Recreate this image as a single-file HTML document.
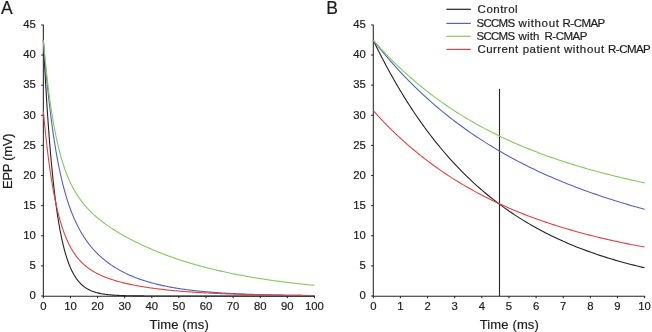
<!DOCTYPE html>
<html><head><meta charset="utf-8"><style>
html,body{margin:0;padding:0;background:#fff;}
body{width:652px;height:332px;overflow:hidden;}
svg{display:block;will-change:transform;}
text{font-family:"Liberation Sans", sans-serif;fill:#1c1c1c;stroke:#1c1c1c;stroke-width:0.2px;}
</style></head><body>
<svg width="652" height="332" viewBox="0 0 652 332">
<path d="M41.15,24.92H43.35V296.2H314.95" fill="none" stroke="#262626" stroke-width="1.05"/>
<line x1="41.15" y1="296.00" x2="43.35" y2="296.00" stroke="#262626" stroke-width="1.05"/>
<line x1="41.15" y1="265.88" x2="43.35" y2="265.88" stroke="#262626" stroke-width="1.05"/>
<line x1="41.15" y1="235.76" x2="43.35" y2="235.76" stroke="#262626" stroke-width="1.05"/>
<line x1="41.15" y1="205.64" x2="43.35" y2="205.64" stroke="#262626" stroke-width="1.05"/>
<line x1="41.15" y1="175.52" x2="43.35" y2="175.52" stroke="#262626" stroke-width="1.05"/>
<line x1="41.15" y1="145.40" x2="43.35" y2="145.40" stroke="#262626" stroke-width="1.05"/>
<line x1="41.15" y1="115.28" x2="43.35" y2="115.28" stroke="#262626" stroke-width="1.05"/>
<line x1="41.15" y1="85.16" x2="43.35" y2="85.16" stroke="#262626" stroke-width="1.05"/>
<line x1="41.15" y1="55.04" x2="43.35" y2="55.04" stroke="#262626" stroke-width="1.05"/>
<text x="35.85" y="299.30" font-size="11.3" text-anchor="end">0</text>
<text x="35.85" y="269.18" font-size="11.3" text-anchor="end">5</text>
<text x="35.85" y="239.06" font-size="11.3" text-anchor="end">10</text>
<text x="35.85" y="208.94" font-size="11.3" text-anchor="end">15</text>
<text x="35.85" y="178.82" font-size="11.3" text-anchor="end">20</text>
<text x="35.85" y="148.70" font-size="11.3" text-anchor="end">25</text>
<text x="35.85" y="118.58" font-size="11.3" text-anchor="end">30</text>
<text x="35.85" y="88.46" font-size="11.3" text-anchor="end">35</text>
<text x="35.85" y="58.34" font-size="11.3" text-anchor="end">40</text>
<text x="35.85" y="28.22" font-size="11.3" text-anchor="end">45</text>
<line x1="43.35" y1="296.0" x2="43.35" y2="298.2" stroke="#262626" stroke-width="1.05"/>
<text x="43.35" y="310.4" font-size="11.3" text-anchor="middle">0</text>
<line x1="70.46" y1="296.0" x2="70.46" y2="298.2" stroke="#262626" stroke-width="1.05"/>
<text x="70.46" y="310.4" font-size="11.3" text-anchor="middle">10</text>
<line x1="97.57" y1="296.0" x2="97.57" y2="298.2" stroke="#262626" stroke-width="1.05"/>
<text x="97.57" y="310.4" font-size="11.3" text-anchor="middle">20</text>
<line x1="124.68" y1="296.0" x2="124.68" y2="298.2" stroke="#262626" stroke-width="1.05"/>
<text x="124.68" y="310.4" font-size="11.3" text-anchor="middle">30</text>
<line x1="151.79" y1="296.0" x2="151.79" y2="298.2" stroke="#262626" stroke-width="1.05"/>
<text x="151.79" y="310.4" font-size="11.3" text-anchor="middle">40</text>
<line x1="178.90" y1="296.0" x2="178.90" y2="298.2" stroke="#262626" stroke-width="1.05"/>
<text x="178.90" y="310.4" font-size="11.3" text-anchor="middle">50</text>
<line x1="206.01" y1="296.0" x2="206.01" y2="298.2" stroke="#262626" stroke-width="1.05"/>
<text x="206.01" y="310.4" font-size="11.3" text-anchor="middle">60</text>
<line x1="233.12" y1="296.0" x2="233.12" y2="298.2" stroke="#262626" stroke-width="1.05"/>
<text x="233.12" y="310.4" font-size="11.3" text-anchor="middle">70</text>
<line x1="260.23" y1="296.0" x2="260.23" y2="298.2" stroke="#262626" stroke-width="1.05"/>
<text x="260.23" y="310.4" font-size="11.3" text-anchor="middle">80</text>
<line x1="287.34" y1="296.0" x2="287.34" y2="298.2" stroke="#262626" stroke-width="1.05"/>
<text x="287.34" y="310.4" font-size="11.3" text-anchor="middle">90</text>
<line x1="314.45" y1="296.0" x2="314.45" y2="298.2" stroke="#262626" stroke-width="1.05"/>
<text x="314.45" y="310.4" font-size="11.3" text-anchor="middle">100</text>
<text x="179.20" y="328.6" font-size="13" text-anchor="middle" textLength="59.2" lengthAdjust="spacing">Time (ms)</text>
<text x="1.0" y="14" font-size="17.5">A</text>
<path d="M371.1,24.92H373.3V296.2H645.1" fill="none" stroke="#262626" stroke-width="1.05"/>
<line x1="371.1" y1="296.00" x2="373.3" y2="296.00" stroke="#262626" stroke-width="1.05"/>
<line x1="371.1" y1="265.88" x2="373.3" y2="265.88" stroke="#262626" stroke-width="1.05"/>
<line x1="371.1" y1="235.76" x2="373.3" y2="235.76" stroke="#262626" stroke-width="1.05"/>
<line x1="371.1" y1="205.64" x2="373.3" y2="205.64" stroke="#262626" stroke-width="1.05"/>
<line x1="371.1" y1="175.52" x2="373.3" y2="175.52" stroke="#262626" stroke-width="1.05"/>
<line x1="371.1" y1="145.40" x2="373.3" y2="145.40" stroke="#262626" stroke-width="1.05"/>
<line x1="371.1" y1="115.28" x2="373.3" y2="115.28" stroke="#262626" stroke-width="1.05"/>
<line x1="371.1" y1="85.16" x2="373.3" y2="85.16" stroke="#262626" stroke-width="1.05"/>
<line x1="371.1" y1="55.04" x2="373.3" y2="55.04" stroke="#262626" stroke-width="1.05"/>
<text x="365.8" y="299.30" font-size="11.3" text-anchor="end">0</text>
<text x="365.8" y="269.18" font-size="11.3" text-anchor="end">5</text>
<text x="365.8" y="239.06" font-size="11.3" text-anchor="end">10</text>
<text x="365.8" y="208.94" font-size="11.3" text-anchor="end">15</text>
<text x="365.8" y="178.82" font-size="11.3" text-anchor="end">20</text>
<text x="365.8" y="148.70" font-size="11.3" text-anchor="end">25</text>
<text x="365.8" y="118.58" font-size="11.3" text-anchor="end">30</text>
<text x="365.8" y="88.46" font-size="11.3" text-anchor="end">35</text>
<text x="365.8" y="58.34" font-size="11.3" text-anchor="end">40</text>
<text x="365.8" y="28.22" font-size="11.3" text-anchor="end">45</text>
<line x1="373.30" y1="296.0" x2="373.30" y2="298.2" stroke="#262626" stroke-width="1.05"/>
<text x="373.30" y="310.4" font-size="11.3" text-anchor="middle">0</text>
<line x1="400.43" y1="296.0" x2="400.43" y2="298.2" stroke="#262626" stroke-width="1.05"/>
<text x="400.43" y="310.4" font-size="11.3" text-anchor="middle">1</text>
<line x1="427.56" y1="296.0" x2="427.56" y2="298.2" stroke="#262626" stroke-width="1.05"/>
<text x="427.56" y="310.4" font-size="11.3" text-anchor="middle">2</text>
<line x1="454.69" y1="296.0" x2="454.69" y2="298.2" stroke="#262626" stroke-width="1.05"/>
<text x="454.69" y="310.4" font-size="11.3" text-anchor="middle">3</text>
<line x1="481.82" y1="296.0" x2="481.82" y2="298.2" stroke="#262626" stroke-width="1.05"/>
<text x="481.82" y="310.4" font-size="11.3" text-anchor="middle">4</text>
<line x1="508.95" y1="296.0" x2="508.95" y2="298.2" stroke="#262626" stroke-width="1.05"/>
<text x="508.95" y="310.4" font-size="11.3" text-anchor="middle">5</text>
<line x1="536.08" y1="296.0" x2="536.08" y2="298.2" stroke="#262626" stroke-width="1.05"/>
<text x="536.08" y="310.4" font-size="11.3" text-anchor="middle">6</text>
<line x1="563.21" y1="296.0" x2="563.21" y2="298.2" stroke="#262626" stroke-width="1.05"/>
<text x="563.21" y="310.4" font-size="11.3" text-anchor="middle">7</text>
<line x1="590.34" y1="296.0" x2="590.34" y2="298.2" stroke="#262626" stroke-width="1.05"/>
<text x="590.34" y="310.4" font-size="11.3" text-anchor="middle">8</text>
<line x1="617.47" y1="296.0" x2="617.47" y2="298.2" stroke="#262626" stroke-width="1.05"/>
<text x="617.47" y="310.4" font-size="11.3" text-anchor="middle">9</text>
<line x1="644.60" y1="296.0" x2="644.60" y2="298.2" stroke="#262626" stroke-width="1.05"/>
<text x="644.60" y="310.4" font-size="11.3" text-anchor="middle">10</text>
<text x="509.25" y="328.6" font-size="13" text-anchor="middle" textLength="59.2" lengthAdjust="spacing">Time (ms)</text>
<text x="326.2" y="14" font-size="17.5">B</text>
<text transform="translate(12,161.2) rotate(-90)" font-size="13" text-anchor="middle" textLength="55.5" lengthAdjust="spacing">EPP (mV)</text>
<line x1="499.5" y1="88.8" x2="499.5" y2="296.0" stroke="#262626" stroke-width="1.1"/>
<path d="M43.35,40.28 L43.62,45.85 L43.89,51.30 L44.16,56.63 L44.43,61.85 L44.71,66.95 L44.98,71.94 L45.25,76.82 L45.52,81.59 L45.79,86.27 L46.06,90.84 L46.33,95.30 L46.60,99.68 L46.87,103.95 L47.15,108.14 L47.42,112.23 L47.69,116.23 L47.96,120.15 L48.23,123.98 L48.50,127.73 L48.77,131.39 L49.04,134.98 L49.31,138.49 L49.59,141.92 L49.86,145.28 L50.13,148.56 L50.40,151.77 L50.67,154.91 L50.94,157.99 L51.21,160.99 L51.48,163.94 L51.75,166.81 L52.03,169.63 L52.30,172.38 L52.57,175.07 L52.84,177.71 L53.11,180.29 L53.38,182.81 L53.65,185.27 L53.92,187.68 L54.19,190.04 L54.47,192.35 L54.74,194.61 L55.01,196.82 L55.28,198.98 L55.55,201.09 L55.82,203.16 L56.09,205.18 L56.36,207.16 L56.63,209.10 L56.91,210.99 L57.18,212.84 L57.45,214.65 L57.72,216.43 L57.99,218.16 L58.26,219.86 L58.53,221.51 L58.80,223.14 L59.07,224.73 L59.34,226.28 L59.62,227.80 L59.89,229.28 L60.16,230.74 L60.43,232.16 L60.70,233.55 L60.97,234.91 L61.24,236.24 L61.51,237.54 L61.78,238.82 L62.06,240.06 L62.33,241.28 L62.60,242.47 L62.87,243.64 L63.14,244.78 L63.41,245.89 L63.68,246.99 L63.95,248.05 L64.22,249.10 L64.50,250.12 L64.77,251.12 L65.04,252.10 L65.31,253.05 L65.58,253.99 L65.85,254.91 L66.12,255.80 L66.39,256.68 L66.66,257.53 L66.94,258.37 L67.21,259.19 L67.48,259.99 L67.75,260.78 L68.02,261.54 L68.29,262.29 L68.56,263.03 L68.83,263.75 L69.10,264.45 L69.38,265.14 L69.65,265.81 L69.92,266.47 L70.19,267.11 L70.46,267.74 L70.73,268.36 L71.00,268.96 L71.27,269.55 L71.54,270.12 L71.82,270.69 L72.09,271.24 L72.36,271.78 L72.63,272.31 L72.90,272.82 L73.17,273.33 L73.44,273.82 L73.71,274.30 L73.98,274.78 L74.26,275.24 L74.53,275.69 L74.80,276.13 L75.07,276.57 L75.34,276.99 L75.61,277.40 L75.88,277.81 L76.15,278.21 L76.42,278.59 L76.70,278.97 L76.97,279.34 L77.24,279.71 L77.51,280.06 L77.78,280.41 L78.05,280.75 L78.32,281.08 L78.59,281.41 L78.86,281.72 L79.14,282.03 L79.41,282.34 L79.68,282.64 L79.95,282.93 L80.22,283.21 L80.49,283.49 L80.76,283.76 L81.03,284.03 L81.30,284.29 L81.58,284.55 L81.85,284.80 L82.12,285.04 L82.39,285.28 L82.66,285.51 L82.93,285.74 L83.20,285.96 L83.47,286.18 L83.74,286.40 L84.02,286.61 L84.29,286.81 L84.56,287.01 L84.83,287.21 L85.10,287.40 L85.37,287.59 L85.64,287.77 L85.91,287.95 L86.18,288.12 L86.45,288.29 L86.73,288.46 L87.00,288.63 L87.27,288.79 L87.54,288.94 L87.81,289.10 L88.08,289.25 L88.35,289.40 L88.62,289.54 L88.89,289.68 L89.17,289.82 L89.44,289.95 L89.71,290.08 L89.98,290.21 L90.25,290.34 L90.52,290.46 L90.79,290.58 L91.06,290.70 L91.33,290.82 L91.61,290.93 L91.88,291.04 L92.15,291.15 L92.42,291.25 L92.69,291.36 L92.96,291.46 L93.23,291.56 L93.50,291.65 L93.77,291.75 L94.05,291.84 L94.32,291.93 L94.59,292.02 L94.86,292.11 L95.13,292.19 L95.40,292.28 L95.67,292.36 L95.94,292.44 L96.21,292.51 L96.49,292.59 L96.76,292.66 L97.03,292.74 L97.30,292.81 L97.57,292.88 L98.66,293.14 L99.75,293.38 L100.84,293.61 L101.93,293.81 L103.02,293.99 L104.11,294.16 L105.20,294.32 L106.29,294.46 L107.38,294.59 L108.47,294.71 L109.56,294.82 L110.65,294.92 L111.74,295.01 L112.83,295.10 L113.92,295.17 L115.01,295.24 L116.10,295.31 L117.19,295.37 L118.28,295.42 L119.37,295.47 L120.46,295.51 L121.55,295.55 L122.64,295.59 L123.73,295.63 L124.82,295.66 L125.91,295.69 L127.00,295.71 L128.09,295.74 L129.18,295.76 L130.27,295.78 L131.36,295.80 L132.45,295.82 L133.54,295.83 L134.62,295.85 L135.71,295.86 L136.80,295.87 L137.89,295.88 L138.98,295.89 L140.07,295.90 L141.16,295.91 L142.25,295.92 L143.34,295.92 L144.43,295.93 L145.52,295.94 L146.61,295.94 L147.70,295.95 L148.79,295.95 L149.88,295.96 L150.97,295.96 L152.06,295.96 L153.15,295.97 L154.24,295.97 L155.33,295.97 L156.42,295.97 L157.51,295.98 L158.60,295.98 L159.69,295.98 L160.78,295.98 L161.87,295.98 L162.96,295.98 L164.05,295.99 L165.14,295.99 L166.23,295.99 L167.32,295.99 L168.41,295.99 L169.50,295.99 L170.59,295.99 L171.68,295.99 L172.77,295.99 L173.86,295.99 L174.95,295.99 L176.04,295.99 L177.13,296.00 L178.22,296.00 L179.31,296.00 L180.40,296.00 L181.49,296.00 L182.58,296.00 L183.67,296.00 L184.76,296.00 L185.85,296.00 L186.94,296.00 L188.03,296.00 L189.12,296.00 L190.21,296.00 L191.30,296.00 L192.39,296.00 L193.48,296.00 L194.57,296.00 L195.66,296.00 L196.75,296.00 L197.84,296.00 L198.93,296.00 L200.02,296.00 L201.11,296.00 L202.20,296.00 L203.29,296.00 L204.38,296.00 L205.47,296.00 L206.55,296.00 L207.64,296.00 L208.73,296.00 L209.82,296.00 L210.91,296.00 L212.00,296.00 L213.09,296.00 L214.18,296.00 L215.27,296.00 L216.36,296.00 L217.45,296.00 L218.54,296.00 L219.63,296.00 L220.72,296.00 L221.81,296.00 L222.90,296.00 L223.99,296.00 L225.08,296.00 L226.17,296.00 L227.26,296.00 L228.35,296.00 L229.44,296.00 L230.53,296.00 L231.62,296.00 L232.71,296.00 L233.80,296.00 L234.89,296.00 L235.98,296.00 L237.07,296.00 L238.16,296.00 L239.25,296.00 L240.34,296.00 L241.43,296.00 L242.52,296.00 L243.61,296.00 L244.70,296.00 L245.79,296.00 L246.88,296.00 L247.97,296.00 L249.06,296.00 L250.15,296.00 L251.24,296.00 L252.33,296.00 L253.42,296.00 L254.51,296.00 L255.60,296.00 L256.69,296.00 L257.78,296.00 L258.87,296.00 L259.96,296.00 L261.05,296.00 L262.14,296.00 L263.23,296.00 L264.32,296.00 L265.41,296.00 L266.50,296.00 L267.59,296.00 L268.68,296.00 L269.77,296.00 L270.86,296.00 L271.95,296.00 L273.04,296.00 L274.13,296.00 L275.22,296.00 L276.31,296.00 L277.40,296.00 L278.48,296.00 L279.57,296.00 L280.66,296.00 L281.75,296.00 L282.84,296.00 L283.93,296.00 L285.02,296.00 L286.11,296.00 L287.20,296.00 L288.29,296.00 L289.38,296.00 L290.47,296.00 L291.56,296.00 L292.65,296.00 L293.74,296.00 L294.83,296.00 L295.92,296.00 L297.01,296.00 L298.10,296.00 L299.19,296.00 L300.28,296.00 L301.37,296.00 L302.46,296.00 L303.55,296.00 L304.64,296.00 L305.73,296.00 L306.82,296.00 L307.91,296.00 L309.00,296.00 L310.09,296.00 L311.18,296.00 L312.27,296.00 L313.36,296.00 L314.45,296.00" fill="none" stroke="#222222" stroke-width="1.1"/>
<path d="M43.35,40.28 L43.62,43.72 L43.89,47.10 L44.16,50.42 L44.43,53.67 L44.71,56.88 L44.98,60.02 L45.25,63.11 L45.52,66.15 L45.79,69.13 L46.06,72.06 L46.33,74.94 L46.60,77.77 L46.87,80.55 L47.15,83.29 L47.42,85.97 L47.69,88.61 L47.96,91.21 L48.23,93.76 L48.50,96.26 L48.77,98.73 L49.04,101.15 L49.31,103.53 L49.59,105.87 L49.86,108.17 L50.13,110.43 L50.40,112.66 L50.67,114.85 L50.94,117.00 L51.21,119.11 L51.48,121.19 L51.75,123.24 L52.03,125.25 L52.30,127.23 L52.57,129.18 L52.84,131.10 L53.11,132.98 L53.38,134.83 L53.65,136.66 L53.92,138.45 L54.19,140.22 L54.47,141.95 L54.74,143.66 L55.01,145.35 L55.28,147.00 L55.55,148.63 L55.82,150.24 L56.09,151.81 L56.36,153.37 L56.63,154.90 L56.91,156.40 L57.18,157.89 L57.45,159.35 L57.72,160.78 L57.99,162.20 L58.26,163.59 L58.53,164.96 L58.80,166.32 L59.07,167.65 L59.34,168.96 L59.62,170.25 L59.89,171.52 L60.16,172.77 L60.43,174.01 L60.70,175.22 L60.97,176.42 L61.24,177.60 L61.51,178.77 L61.78,179.91 L62.06,181.04 L62.33,182.16 L62.60,183.26 L62.87,184.34 L63.14,185.40 L63.41,186.46 L63.68,187.49 L63.95,188.51 L64.22,189.52 L64.50,190.51 L64.77,191.49 L65.04,192.46 L65.31,193.41 L65.58,194.35 L65.85,195.28 L66.12,196.19 L66.39,197.10 L66.66,197.98 L66.94,198.86 L67.21,199.73 L67.48,200.58 L67.75,201.43 L68.02,202.26 L68.29,203.08 L68.56,203.89 L68.83,204.69 L69.10,205.48 L69.38,206.26 L69.65,207.02 L69.92,207.78 L70.19,208.53 L70.46,209.27 L70.73,210.00 L71.00,210.73 L71.27,211.44 L71.54,212.14 L71.82,212.84 L72.09,213.52 L72.36,214.20 L72.63,214.87 L72.90,215.53 L73.17,216.18 L73.44,216.83 L73.71,217.47 L73.98,218.10 L74.26,218.72 L74.53,219.34 L74.80,219.94 L75.07,220.54 L75.34,221.14 L75.61,221.73 L75.88,222.31 L76.15,222.88 L76.42,223.45 L76.70,224.01 L76.97,224.56 L77.24,225.11 L77.51,225.65 L77.78,226.19 L78.05,226.72 L78.32,227.24 L78.59,227.76 L78.86,228.27 L79.14,228.78 L79.41,229.28 L79.68,229.78 L79.95,230.27 L80.22,230.75 L80.49,231.23 L80.76,231.71 L81.03,232.18 L81.30,232.64 L81.58,233.10 L81.85,233.56 L82.12,234.01 L82.39,234.46 L82.66,234.90 L82.93,235.34 L83.20,235.77 L83.47,236.20 L83.74,236.62 L84.02,237.04 L84.29,237.46 L84.56,237.87 L84.83,238.28 L85.10,238.68 L85.37,239.08 L85.64,239.48 L85.91,239.87 L86.18,240.26 L86.45,240.64 L86.73,241.02 L87.00,241.40 L87.27,241.77 L87.54,242.14 L87.81,242.51 L88.08,242.88 L88.35,243.24 L88.62,243.59 L88.89,243.95 L89.17,244.30 L89.44,244.64 L89.71,244.99 L89.98,245.33 L90.25,245.67 L90.52,246.00 L90.79,246.33 L91.06,246.66 L91.33,246.99 L91.61,247.31 L91.88,247.63 L92.15,247.95 L92.42,248.26 L92.69,248.58 L92.96,248.88 L93.23,249.19 L93.50,249.50 L93.77,249.80 L94.05,250.10 L94.32,250.39 L94.59,250.69 L94.86,250.98 L95.13,251.27 L95.40,251.55 L95.67,251.84 L95.94,252.12 L96.21,252.40 L96.49,252.68 L96.76,252.95 L97.03,253.23 L97.30,253.50 L97.57,253.77 L98.66,254.83 L99.75,255.85 L100.84,256.85 L101.93,257.81 L103.02,258.75 L104.11,259.65 L105.20,260.54 L106.29,261.39 L107.38,262.22 L108.47,263.03 L109.56,263.82 L110.65,264.58 L111.74,265.33 L112.83,266.05 L113.92,266.76 L115.01,267.44 L116.10,268.11 L117.19,268.76 L118.28,269.40 L119.37,270.01 L120.46,270.62 L121.55,271.20 L122.64,271.77 L123.73,272.33 L124.82,272.88 L125.91,273.41 L127.00,273.93 L128.09,274.43 L129.18,274.92 L130.27,275.40 L131.36,275.87 L132.45,276.33 L133.54,276.78 L134.62,277.22 L135.71,277.64 L136.80,278.06 L137.89,278.47 L138.98,278.86 L140.07,279.25 L141.16,279.63 L142.25,280.00 L143.34,280.36 L144.43,280.71 L145.52,281.06 L146.61,281.40 L147.70,281.72 L148.79,282.05 L149.88,282.36 L150.97,282.67 L152.06,282.97 L153.15,283.26 L154.24,283.55 L155.33,283.83 L156.42,284.10 L157.51,284.37 L158.60,284.63 L159.69,284.88 L160.78,285.13 L161.87,285.38 L162.96,285.61 L164.05,285.85 L165.14,286.08 L166.23,286.30 L167.32,286.52 L168.41,286.73 L169.50,286.94 L170.59,287.14 L171.68,287.34 L172.77,287.53 L173.86,287.72 L174.95,287.91 L176.04,288.09 L177.13,288.26 L178.22,288.44 L179.31,288.61 L180.40,288.77 L181.49,288.93 L182.58,289.09 L183.67,289.25 L184.76,289.40 L185.85,289.55 L186.94,289.69 L188.03,289.83 L189.12,289.97 L190.21,290.10 L191.30,290.24 L192.39,290.37 L193.48,290.49 L194.57,290.61 L195.66,290.73 L196.75,290.85 L197.84,290.97 L198.93,291.08 L200.02,291.19 L201.11,291.30 L202.20,291.40 L203.29,291.51 L204.38,291.61 L205.47,291.70 L206.55,291.80 L207.64,291.89 L208.73,291.99 L209.82,292.08 L210.91,292.16 L212.00,292.25 L213.09,292.33 L214.18,292.42 L215.27,292.50 L216.36,292.57 L217.45,292.65 L218.54,292.73 L219.63,292.80 L220.72,292.87 L221.81,292.94 L222.90,293.01 L223.99,293.08 L225.08,293.14 L226.17,293.20 L227.26,293.27 L228.35,293.33 L229.44,293.39 L230.53,293.45 L231.62,293.50 L232.71,293.56 L233.80,293.61 L234.89,293.67 L235.98,293.72 L237.07,293.77 L238.16,293.82 L239.25,293.87 L240.34,293.92 L241.43,293.96 L242.52,294.01 L243.61,294.05 L244.70,294.10 L245.79,294.14 L246.88,294.18 L247.97,294.22 L249.06,294.26 L250.15,294.30 L251.24,294.34 L252.33,294.38 L253.42,294.41 L254.51,294.45 L255.60,294.48 L256.69,294.52 L257.78,294.55 L258.87,294.58 L259.96,294.61 L261.05,294.64 L262.14,294.67 L263.23,294.70 L264.32,294.73 L265.41,294.76 L266.50,294.79 L267.59,294.82 L268.68,294.84 L269.77,294.87 L270.86,294.89 L271.95,294.92 L273.04,294.94 L274.13,294.97 L275.22,294.99 L276.31,295.01 L277.40,295.03 L278.48,295.06 L279.57,295.08 L280.66,295.10 L281.75,295.12 L282.84,295.14 L283.93,295.16 L285.02,295.18 L286.11,295.19 L287.20,295.21 L288.29,295.23 L289.38,295.25 L290.47,295.26 L291.56,295.28 L292.65,295.30 L293.74,295.31 L294.83,295.33 L295.92,295.34 L297.01,295.36 L298.10,295.37 L299.19,295.39 L300.28,295.40 L301.37,295.41 L302.46,295.43 L303.55,295.44 L304.64,295.45 L305.73,295.46 L306.82,295.48 L307.91,295.49 L309.00,295.50 L310.09,295.51 L311.18,295.52 L312.27,295.53 L313.36,295.54 L314.45,295.55" fill="none" stroke="#5461c4" stroke-width="1.1"/>
<path d="M43.35,40.28 L43.62,43.34 L43.89,46.35 L44.16,49.30 L44.43,52.19 L44.71,55.02 L44.98,57.81 L45.25,60.53 L45.52,63.21 L45.79,65.84 L46.06,68.41 L46.33,70.94 L46.60,73.42 L46.87,75.85 L47.15,78.24 L47.42,80.58 L47.69,82.88 L47.96,85.14 L48.23,87.35 L48.50,89.53 L48.77,91.66 L49.04,93.75 L49.31,95.81 L49.59,97.82 L49.86,99.80 L50.13,101.75 L50.40,103.66 L50.67,105.53 L50.94,107.37 L51.21,109.17 L51.48,110.95 L51.75,112.69 L52.03,114.40 L52.30,116.08 L52.57,117.72 L52.84,119.34 L53.11,120.93 L53.38,122.50 L53.65,124.03 L53.92,125.54 L54.19,127.02 L54.47,128.47 L54.74,129.90 L55.01,131.31 L55.28,132.69 L55.55,134.04 L55.82,135.38 L56.09,136.69 L56.36,137.97 L56.63,139.24 L56.91,140.48 L57.18,141.70 L57.45,142.91 L57.72,144.09 L57.99,145.25 L58.26,146.39 L58.53,147.51 L58.80,148.62 L59.07,149.71 L59.34,150.77 L59.62,151.82 L59.89,152.86 L60.16,153.87 L60.43,154.87 L60.70,155.86 L60.97,156.83 L61.24,157.78 L61.51,158.72 L61.78,159.64 L62.06,160.55 L62.33,161.44 L62.60,162.32 L62.87,163.19 L63.14,164.04 L63.41,164.88 L63.68,165.71 L63.95,166.52 L64.22,167.32 L64.50,168.11 L64.77,168.89 L65.04,169.65 L65.31,170.41 L65.58,171.15 L65.85,171.88 L66.12,172.61 L66.39,173.32 L66.66,174.02 L66.94,174.71 L67.21,175.39 L67.48,176.06 L67.75,176.72 L68.02,177.37 L68.29,178.01 L68.56,178.65 L68.83,179.27 L69.10,179.89 L69.38,180.50 L69.65,181.10 L69.92,181.69 L70.19,182.27 L70.46,182.85 L70.73,183.42 L71.00,183.98 L71.27,184.53 L71.54,185.08 L71.82,185.62 L72.09,186.15 L72.36,186.67 L72.63,187.19 L72.90,187.70 L73.17,188.21 L73.44,188.71 L73.71,189.20 L73.98,189.69 L74.26,190.17 L74.53,190.65 L74.80,191.12 L75.07,191.58 L75.34,192.04 L75.61,192.49 L75.88,192.94 L76.15,193.38 L76.42,193.82 L76.70,194.25 L76.97,194.68 L77.24,195.10 L77.51,195.52 L77.78,195.94 L78.05,196.35 L78.32,196.75 L78.59,197.15 L78.86,197.55 L79.14,197.94 L79.41,198.33 L79.68,198.71 L79.95,199.09 L80.22,199.47 L80.49,199.84 L80.76,200.21 L81.03,200.57 L81.30,200.93 L81.58,201.29 L81.85,201.65 L82.12,202.00 L82.39,202.34 L82.66,202.69 L82.93,203.03 L83.20,203.37 L83.47,203.70 L83.74,204.03 L84.02,204.36 L84.29,204.69 L84.56,205.01 L84.83,205.33 L85.10,205.64 L85.37,205.96 L85.64,206.27 L85.91,206.58 L86.18,206.89 L86.45,207.19 L86.73,207.49 L87.00,207.79 L87.27,208.08 L87.54,208.38 L87.81,208.67 L88.08,208.96 L88.35,209.25 L88.62,209.53 L88.89,209.81 L89.17,210.09 L89.44,210.37 L89.71,210.65 L89.98,210.92 L90.25,211.19 L90.52,211.46 L90.79,211.73 L91.06,212.00 L91.33,212.26 L91.61,212.52 L91.88,212.78 L92.15,213.04 L92.42,213.30 L92.69,213.55 L92.96,213.81 L93.23,214.06 L93.50,214.31 L93.77,214.56 L94.05,214.81 L94.32,215.05 L94.59,215.29 L94.86,215.54 L95.13,215.78 L95.40,216.02 L95.67,216.25 L95.94,216.49 L96.21,216.72 L96.49,216.96 L96.76,217.19 L97.03,217.42 L97.30,217.65 L97.57,217.88 L98.66,218.78 L99.75,219.67 L100.84,220.53 L101.93,221.38 L103.02,222.21 L104.11,223.02 L105.20,223.82 L106.29,224.61 L107.38,225.38 L108.47,226.14 L109.56,226.88 L110.65,227.61 L111.74,228.34 L112.83,229.05 L113.92,229.75 L115.01,230.44 L116.10,231.12 L117.19,231.79 L118.28,232.45 L119.37,233.10 L120.46,233.75 L121.55,234.38 L122.64,235.01 L123.73,235.63 L124.82,236.24 L125.91,236.85 L127.00,237.44 L128.09,238.03 L129.18,238.62 L130.27,239.19 L131.36,239.76 L132.45,240.33 L133.54,240.89 L134.62,241.44 L135.71,241.98 L136.80,242.52 L137.89,243.05 L138.98,243.58 L140.07,244.10 L141.16,244.62 L142.25,245.13 L143.34,245.64 L144.43,246.14 L145.52,246.63 L146.61,247.12 L147.70,247.60 L148.79,248.08 L149.88,248.56 L150.97,249.03 L152.06,249.49 L153.15,249.95 L154.24,250.41 L155.33,250.86 L156.42,251.31 L157.51,251.75 L158.60,252.19 L159.69,252.62 L160.78,253.05 L161.87,253.47 L162.96,253.89 L164.05,254.31 L165.14,254.72 L166.23,255.13 L167.32,255.53 L168.41,255.93 L169.50,256.32 L170.59,256.72 L171.68,257.10 L172.77,257.49 L173.86,257.87 L174.95,258.24 L176.04,258.62 L177.13,258.98 L178.22,259.35 L179.31,259.71 L180.40,260.07 L181.49,260.42 L182.58,260.77 L183.67,261.12 L184.76,261.47 L185.85,261.81 L186.94,262.14 L188.03,262.48 L189.12,262.81 L190.21,263.13 L191.30,263.46 L192.39,263.78 L193.48,264.10 L194.57,264.41 L195.66,264.72 L196.75,265.03 L197.84,265.34 L198.93,265.64 L200.02,265.94 L201.11,266.23 L202.20,266.53 L203.29,266.82 L204.38,267.11 L205.47,267.39 L206.55,267.67 L207.64,267.95 L208.73,268.23 L209.82,268.50 L210.91,268.77 L212.00,269.04 L213.09,269.31 L214.18,269.57 L215.27,269.83 L216.36,270.09 L217.45,270.34 L218.54,270.60 L219.63,270.85 L220.72,271.10 L221.81,271.34 L222.90,271.58 L223.99,271.82 L225.08,272.06 L226.17,272.30 L227.26,272.53 L228.35,272.76 L229.44,272.99 L230.53,273.22 L231.62,273.44 L232.71,273.67 L233.80,273.89 L234.89,274.10 L235.98,274.32 L237.07,274.53 L238.16,274.75 L239.25,274.95 L240.34,275.16 L241.43,275.37 L242.52,275.57 L243.61,275.77 L244.70,275.97 L245.79,276.17 L246.88,276.36 L247.97,276.56 L249.06,276.75 L250.15,276.94 L251.24,277.13 L252.33,277.31 L253.42,277.50 L254.51,277.68 L255.60,277.86 L256.69,278.04 L257.78,278.22 L258.87,278.39 L259.96,278.56 L261.05,278.74 L262.14,278.91 L263.23,279.08 L264.32,279.24 L265.41,279.41 L266.50,279.57 L267.59,279.73 L268.68,279.89 L269.77,280.05 L270.86,280.21 L271.95,280.36 L273.04,280.52 L274.13,280.67 L275.22,280.82 L276.31,280.97 L277.40,281.12 L278.48,281.27 L279.57,281.41 L280.66,281.56 L281.75,281.70 L282.84,281.84 L283.93,281.98 L285.02,282.12 L286.11,282.25 L287.20,282.39 L288.29,282.52 L289.38,282.66 L290.47,282.79 L291.56,282.92 L292.65,283.05 L293.74,283.17 L294.83,283.30 L295.92,283.43 L297.01,283.55 L298.10,283.67 L299.19,283.79 L300.28,283.91 L301.37,284.03 L302.46,284.15 L303.55,284.27 L304.64,284.38 L305.73,284.50 L306.82,284.61 L307.91,284.72 L309.00,284.83 L310.09,284.94 L311.18,285.05 L312.27,285.16 L313.36,285.27 L314.45,285.37" fill="none" stroke="#82c95c" stroke-width="1.1"/>
<path d="M43.35,110.69 L43.62,113.69 L43.89,116.63 L44.16,119.52 L44.43,122.35 L44.71,125.13 L44.98,127.85 L45.25,130.52 L45.52,133.13 L45.79,135.70 L46.06,138.22 L46.33,140.69 L46.60,143.11 L46.87,145.49 L47.15,147.82 L47.42,150.11 L47.69,152.35 L47.96,154.55 L48.23,156.71 L48.50,158.83 L48.77,160.90 L49.04,162.94 L49.31,164.94 L49.59,166.90 L49.86,168.83 L50.13,170.72 L50.40,172.57 L50.67,174.39 L50.94,176.17 L51.21,177.92 L51.48,179.64 L51.75,181.32 L52.03,182.98 L52.30,184.60 L52.57,186.19 L52.84,187.76 L53.11,189.29 L53.38,190.80 L53.65,192.28 L53.92,193.73 L54.19,195.15 L54.47,196.55 L54.74,197.92 L55.01,199.27 L55.28,200.59 L55.55,201.89 L55.82,203.16 L56.09,204.42 L56.36,205.64 L56.63,206.85 L56.91,208.04 L57.18,209.20 L57.45,210.34 L57.72,211.46 L57.99,212.57 L58.26,213.65 L58.53,214.71 L58.80,215.75 L59.07,216.78 L59.34,217.79 L59.62,218.77 L59.89,219.75 L60.16,220.70 L60.43,221.64 L60.70,222.56 L60.97,223.46 L61.24,224.35 L61.51,225.23 L61.78,226.09 L62.06,226.93 L62.33,227.76 L62.60,228.57 L62.87,229.37 L63.14,230.16 L63.41,230.93 L63.68,231.69 L63.95,232.44 L64.22,233.18 L64.50,233.90 L64.77,234.61 L65.04,235.30 L65.31,235.99 L65.58,236.67 L65.85,237.33 L66.12,237.98 L66.39,238.62 L66.66,239.25 L66.94,239.87 L67.21,240.48 L67.48,241.08 L67.75,241.67 L68.02,242.25 L68.29,242.83 L68.56,243.39 L68.83,243.94 L69.10,244.48 L69.38,245.02 L69.65,245.55 L69.92,246.06 L70.19,246.57 L70.46,247.08 L70.73,247.57 L71.00,248.06 L71.27,248.53 L71.54,249.01 L71.82,249.47 L72.09,249.93 L72.36,250.38 L72.63,250.82 L72.90,251.25 L73.17,251.68 L73.44,252.10 L73.71,252.52 L73.98,252.93 L74.26,253.33 L74.53,253.73 L74.80,254.12 L75.07,254.51 L75.34,254.89 L75.61,255.26 L75.88,255.63 L76.15,256.00 L76.42,256.35 L76.70,256.71 L76.97,257.06 L77.24,257.40 L77.51,257.74 L77.78,258.07 L78.05,258.40 L78.32,258.72 L78.59,259.04 L78.86,259.36 L79.14,259.67 L79.41,259.97 L79.68,260.27 L79.95,260.57 L80.22,260.87 L80.49,261.16 L80.76,261.44 L81.03,261.72 L81.30,262.00 L81.58,262.28 L81.85,262.55 L82.12,262.81 L82.39,263.08 L82.66,263.34 L82.93,263.59 L83.20,263.85 L83.47,264.10 L83.74,264.34 L84.02,264.59 L84.29,264.83 L84.56,265.06 L84.83,265.30 L85.10,265.53 L85.37,265.76 L85.64,265.99 L85.91,266.21 L86.18,266.43 L86.45,266.65 L86.73,266.86 L87.00,267.07 L87.27,267.28 L87.54,267.49 L87.81,267.70 L88.08,267.90 L88.35,268.10 L88.62,268.30 L88.89,268.49 L89.17,268.68 L89.44,268.87 L89.71,269.06 L89.98,269.25 L90.25,269.43 L90.52,269.62 L90.79,269.80 L91.06,269.97 L91.33,270.15 L91.61,270.33 L91.88,270.50 L92.15,270.67 L92.42,270.84 L92.69,271.00 L92.96,271.17 L93.23,271.33 L93.50,271.49 L93.77,271.65 L94.05,271.81 L94.32,271.97 L94.59,272.12 L94.86,272.28 L95.13,272.43 L95.40,272.58 L95.67,272.73 L95.94,272.87 L96.21,273.02 L96.49,273.16 L96.76,273.31 L97.03,273.45 L97.30,273.59 L97.57,273.73 L98.66,274.27 L99.75,274.80 L100.84,275.30 L101.93,275.79 L103.02,276.26 L104.11,276.71 L105.20,277.15 L106.29,277.57 L107.38,277.98 L108.47,278.38 L109.56,278.76 L110.65,279.14 L111.74,279.50 L112.83,279.85 L113.92,280.19 L115.01,280.53 L116.10,280.85 L117.19,281.16 L118.28,281.47 L119.37,281.77 L120.46,282.06 L121.55,282.34 L122.64,282.62 L123.73,282.89 L124.82,283.15 L125.91,283.41 L127.00,283.66 L128.09,283.90 L129.18,284.14 L130.27,284.37 L131.36,284.60 L132.45,284.82 L133.54,285.04 L134.62,285.26 L135.71,285.46 L136.80,285.67 L137.89,285.87 L138.98,286.06 L140.07,286.26 L141.16,286.44 L142.25,286.63 L143.34,286.81 L144.43,286.98 L145.52,287.16 L146.61,287.32 L147.70,287.49 L148.79,287.65 L149.88,287.81 L150.97,287.97 L152.06,288.12 L153.15,288.27 L154.24,288.42 L155.33,288.56 L156.42,288.70 L157.51,288.84 L158.60,288.97 L159.69,289.11 L160.78,289.24 L161.87,289.36 L162.96,289.49 L164.05,289.61 L165.14,289.73 L166.23,289.85 L167.32,289.97 L168.41,290.08 L169.50,290.19 L170.59,290.30 L171.68,290.41 L172.77,290.51 L173.86,290.62 L174.95,290.72 L176.04,290.82 L177.13,290.92 L178.22,291.01 L179.31,291.11 L180.40,291.20 L181.49,291.29 L182.58,291.38 L183.67,291.46 L184.76,291.55 L185.85,291.63 L186.94,291.71 L188.03,291.79 L189.12,291.87 L190.21,291.95 L191.30,292.03 L192.39,292.10 L193.48,292.17 L194.57,292.25 L195.66,292.32 L196.75,292.39 L197.84,292.45 L198.93,292.52 L200.02,292.59 L201.11,292.65 L202.20,292.71 L203.29,292.77 L204.38,292.83 L205.47,292.89 L206.55,292.95 L207.64,293.01 L208.73,293.07 L209.82,293.12 L210.91,293.17 L212.00,293.23 L213.09,293.28 L214.18,293.33 L215.27,293.38 L216.36,293.43 L217.45,293.48 L218.54,293.53 L219.63,293.57 L220.72,293.62 L221.81,293.66 L222.90,293.71 L223.99,293.75 L225.08,293.79 L226.17,293.83 L227.26,293.87 L228.35,293.91 L229.44,293.95 L230.53,293.99 L231.62,294.03 L232.71,294.06 L233.80,294.10 L234.89,294.14 L235.98,294.17 L237.07,294.21 L238.16,294.24 L239.25,294.27 L240.34,294.31 L241.43,294.34 L242.52,294.37 L243.61,294.40 L244.70,294.43 L245.79,294.46 L246.88,294.49 L247.97,294.52 L249.06,294.54 L250.15,294.57 L251.24,294.60 L252.33,294.62 L253.42,294.65 L254.51,294.67 L255.60,294.70 L256.69,294.72 L257.78,294.75 L258.87,294.77 L259.96,294.79 L261.05,294.82 L262.14,294.84 L263.23,294.86 L264.32,294.88 L265.41,294.90 L266.50,294.92 L267.59,294.94 L268.68,294.96 L269.77,294.98 L270.86,295.00 L271.95,295.02 L273.04,295.04 L274.13,295.06 L275.22,295.07 L276.31,295.09 L277.40,295.11 L278.48,295.13 L279.57,295.14 L280.66,295.16 L281.75,295.17 L282.84,295.19 L283.93,295.20 L285.02,295.22 L286.11,295.23 L287.20,295.25 L288.29,295.26 L289.38,295.28 L290.47,295.29 L291.56,295.30 L292.65,295.32 L293.74,295.33 L294.83,295.34 L295.92,295.35 L297.01,295.37 L298.10,295.38 L299.19,295.39 L300.28,295.40 L301.37,295.41 L302.46,295.42 L303.55,295.43 L304.64,295.45 L305.73,295.46 L306.82,295.47 L307.91,295.48 L309.00,295.49 L310.09,295.50 L311.18,295.50 L312.27,295.51 L313.36,295.52 L314.45,295.53" fill="none" stroke="#e04242" stroke-width="1.1"/>
<path d="M373.30,40.28 L373.98,41.69 L374.66,43.08 L375.33,44.47 L376.01,45.85 L376.69,47.23 L377.37,48.59 L378.05,49.95 L378.73,51.30 L379.40,52.65 L380.08,53.98 L380.76,55.31 L381.44,56.63 L382.12,57.95 L382.80,59.25 L383.47,60.55 L384.15,61.85 L384.83,63.13 L385.51,64.41 L386.19,65.68 L386.87,66.95 L387.54,68.21 L388.22,69.46 L388.90,70.70 L389.58,71.94 L390.26,73.17 L390.93,74.39 L391.61,75.61 L392.29,76.82 L392.97,78.02 L393.65,79.22 L394.33,80.41 L395.00,81.59 L395.68,82.77 L396.36,83.94 L397.04,85.11 L397.72,86.27 L398.40,87.42 L399.07,88.56 L399.75,89.70 L400.43,90.84 L401.11,91.96 L401.79,93.08 L402.46,94.20 L403.14,95.30 L403.82,96.41 L404.50,97.50 L405.18,98.59 L405.86,99.68 L406.53,100.76 L407.21,101.83 L407.89,102.89 L408.57,103.95 L409.25,105.01 L409.93,106.06 L410.60,107.10 L411.28,108.14 L411.96,109.17 L412.64,110.20 L413.32,111.22 L414.00,112.23 L414.67,113.24 L415.35,114.24 L416.03,115.24 L416.71,116.23 L417.39,117.22 L418.06,118.20 L418.74,119.18 L419.42,120.15 L420.10,121.12 L420.78,122.08 L421.46,123.03 L422.13,123.98 L422.81,124.93 L423.49,125.87 L424.17,126.80 L424.85,127.73 L425.53,128.65 L426.20,129.57 L426.88,130.49 L427.56,131.39 L430.31,135.03 L433.05,138.58 L435.80,142.05 L438.55,145.44 L441.30,148.77 L444.04,152.01 L446.79,155.19 L449.54,158.30 L452.29,161.33 L455.03,164.30 L457.78,167.21 L460.53,170.05 L463.28,172.83 L466.02,175.54 L468.77,178.20 L471.52,180.80 L474.26,183.34 L477.01,185.83 L479.76,188.26 L482.51,190.63 L485.25,192.96 L488.00,195.23 L490.75,197.45 L493.50,199.63 L496.24,201.75 L498.99,203.83 L501.74,205.87 L504.49,207.85 L507.23,209.80 L509.98,211.70 L512.73,213.56 L515.47,215.38 L518.22,217.16 L520.97,218.89 L523.72,220.60 L526.46,222.26 L529.21,223.89 L531.96,225.48 L534.71,227.03 L537.45,228.55 L540.20,230.04 L542.95,231.50 L545.70,232.92 L548.44,234.31 L551.19,235.67 L553.94,237.00 L556.69,238.30 L559.43,239.58 L562.18,240.82 L564.93,242.04 L567.67,243.23 L570.42,244.39 L573.17,245.53 L575.92,246.64 L578.66,247.73 L581.41,248.80 L584.16,249.84 L586.91,250.86 L589.65,251.85 L592.40,252.83 L595.15,253.78 L597.90,254.71 L600.64,255.62 L603.39,256.51 L606.14,257.38 L608.88,258.23 L611.63,259.07 L614.38,259.88 L617.13,260.68 L619.87,261.46 L622.62,262.22 L625.37,262.96 L628.12,263.69 L630.86,264.41 L633.61,265.10 L636.36,265.78 L639.11,266.45 L641.85,267.10 L644.60,267.74" fill="none" stroke="#222222" stroke-width="1.1"/>
<path d="M373.30,40.28 L373.98,41.15 L374.66,42.01 L375.33,42.87 L376.01,43.72 L376.69,44.57 L377.37,45.42 L378.05,46.26 L378.73,47.10 L379.40,47.93 L380.08,48.76 L380.76,49.59 L381.44,50.42 L382.12,51.24 L382.80,52.05 L383.47,52.87 L384.15,53.67 L384.83,54.48 L385.51,55.28 L386.19,56.08 L386.87,56.88 L387.54,57.67 L388.22,58.46 L388.90,59.24 L389.58,60.02 L390.26,60.80 L390.93,61.57 L391.61,62.34 L392.29,63.11 L392.97,63.88 L393.65,64.64 L394.33,65.39 L395.00,66.15 L395.68,66.90 L396.36,67.65 L397.04,68.39 L397.72,69.13 L398.40,69.87 L399.07,70.60 L399.75,71.33 L400.43,72.06 L401.11,72.79 L401.79,73.51 L402.46,74.23 L403.14,74.94 L403.82,75.65 L404.50,76.36 L405.18,77.07 L405.86,77.77 L406.53,78.47 L407.21,79.17 L407.89,79.86 L408.57,80.55 L409.25,81.24 L409.93,81.92 L410.60,82.61 L411.28,83.29 L411.96,83.96 L412.64,84.63 L413.32,85.30 L414.00,85.97 L414.67,86.64 L415.35,87.30 L416.03,87.96 L416.71,88.61 L417.39,89.26 L418.06,89.91 L418.74,90.56 L419.42,91.21 L420.10,91.85 L420.78,92.49 L421.46,93.12 L422.13,93.76 L422.81,94.39 L423.49,95.01 L424.17,95.64 L424.85,96.26 L425.53,96.88 L426.20,97.50 L426.88,98.11 L427.56,98.73 L430.31,101.18 L433.05,103.59 L435.80,105.96 L438.55,108.29 L441.30,110.58 L444.04,112.83 L446.79,115.04 L449.54,117.21 L452.29,119.35 L455.03,121.46 L457.78,123.52 L460.53,125.56 L463.28,127.56 L466.02,129.52 L468.77,131.46 L471.52,133.36 L474.26,135.23 L477.01,137.07 L479.76,138.88 L482.51,140.66 L485.25,142.41 L488.00,144.14 L490.75,145.83 L493.50,147.50 L496.24,149.14 L498.99,150.76 L501.74,152.35 L504.49,153.91 L507.23,155.45 L509.98,156.97 L512.73,158.46 L515.47,159.93 L518.22,161.38 L520.97,162.80 L523.72,164.20 L526.46,165.58 L529.21,166.94 L531.96,168.28 L534.71,169.60 L537.45,170.90 L540.20,172.17 L542.95,173.43 L545.70,174.67 L548.44,175.89 L551.19,177.10 L553.94,178.28 L556.69,179.45 L559.43,180.60 L562.18,181.74 L564.93,182.85 L567.67,183.96 L570.42,185.04 L573.17,186.11 L575.92,187.17 L578.66,188.20 L581.41,189.23 L584.16,190.24 L586.91,191.24 L589.65,192.22 L592.40,193.19 L595.15,194.14 L597.90,195.08 L600.64,196.01 L603.39,196.92 L606.14,197.83 L608.88,198.72 L611.63,199.60 L614.38,200.46 L617.13,201.32 L619.87,202.16 L622.62,203.00 L625.37,203.82 L628.12,204.63 L630.86,205.43 L633.61,206.22 L636.36,207.00 L639.11,207.76 L641.85,208.52 L644.60,209.27" fill="none" stroke="#5461c4" stroke-width="1.1"/>
<path d="M373.30,40.28 L373.98,41.05 L374.66,41.82 L375.33,42.58 L376.01,43.34 L376.69,44.10 L377.37,44.85 L378.05,45.60 L378.73,46.35 L379.40,47.09 L380.08,47.83 L380.76,48.57 L381.44,49.30 L382.12,50.02 L382.80,50.75 L383.47,51.47 L384.15,52.19 L384.83,52.90 L385.51,53.61 L386.19,54.32 L386.87,55.02 L387.54,55.72 L388.22,56.42 L388.90,57.11 L389.58,57.81 L390.26,58.49 L390.93,59.18 L391.61,59.86 L392.29,60.53 L392.97,61.21 L393.65,61.88 L394.33,62.55 L395.00,63.21 L395.68,63.87 L396.36,64.53 L397.04,65.19 L397.72,65.84 L398.40,66.49 L399.07,67.13 L399.75,67.77 L400.43,68.41 L401.11,69.05 L401.79,69.68 L402.46,70.31 L403.14,70.94 L403.82,71.57 L404.50,72.19 L405.18,72.81 L405.86,73.42 L406.53,74.03 L407.21,74.64 L407.89,75.25 L408.57,75.85 L409.25,76.46 L409.93,77.05 L410.60,77.65 L411.28,78.24 L411.96,78.83 L412.64,79.42 L413.32,80.00 L414.00,80.58 L414.67,81.16 L415.35,81.74 L416.03,82.31 L416.71,82.88 L417.39,83.45 L418.06,84.02 L418.74,84.58 L419.42,85.14 L420.10,85.70 L420.78,86.25 L421.46,86.80 L422.13,87.35 L422.81,87.90 L423.49,88.45 L424.17,88.99 L424.85,89.53 L425.53,90.06 L426.20,90.60 L426.88,91.13 L427.56,91.66 L430.31,93.78 L433.05,95.86 L435.80,97.90 L438.55,99.90 L441.30,101.87 L444.04,103.80 L446.79,105.69 L449.54,107.55 L452.29,109.38 L455.03,111.17 L457.78,112.93 L460.53,114.65 L463.28,116.35 L466.02,118.01 L468.77,119.65 L471.52,121.25 L474.26,122.83 L477.01,124.38 L479.76,125.90 L482.51,127.39 L485.25,128.86 L488.00,130.30 L490.75,131.71 L493.50,133.10 L496.24,134.47 L498.99,135.81 L501.74,137.13 L504.49,138.42 L507.23,139.70 L509.98,140.95 L512.73,142.18 L515.47,143.39 L518.22,144.58 L520.97,145.74 L523.72,146.89 L526.46,148.02 L529.21,149.13 L531.96,150.22 L534.71,151.29 L537.45,152.35 L540.20,153.39 L542.95,154.41 L545.70,155.41 L548.44,156.40 L551.19,157.37 L553.94,158.33 L556.69,159.27 L559.43,160.19 L562.18,161.10 L564.93,162.00 L567.67,162.88 L570.42,163.75 L573.17,164.60 L575.92,165.45 L578.66,166.27 L581.41,167.09 L584.16,167.89 L586.91,168.68 L589.65,169.46 L592.40,170.23 L595.15,170.98 L597.90,171.73 L600.64,172.46 L603.39,173.18 L606.14,173.89 L608.88,174.59 L611.63,175.29 L614.38,175.97 L617.13,176.64 L619.87,177.30 L622.62,177.95 L625.37,178.59 L628.12,179.23 L630.86,179.85 L633.61,180.47 L636.36,181.08 L639.11,181.67 L641.85,182.27 L644.60,182.85" fill="none" stroke="#82c95c" stroke-width="1.1"/>
<path d="M373.30,110.69 L373.98,111.45 L374.66,112.20 L375.33,112.95 L376.01,113.69 L376.69,114.43 L377.37,115.17 L378.05,115.90 L378.73,116.63 L379.40,117.36 L380.08,118.08 L380.76,118.80 L381.44,119.52 L382.12,120.23 L382.80,120.94 L383.47,121.65 L384.15,122.35 L384.83,123.05 L385.51,123.74 L386.19,124.44 L386.87,125.13 L387.54,125.81 L388.22,126.49 L388.90,127.17 L389.58,127.85 L390.26,128.52 L390.93,129.19 L391.61,129.85 L392.29,130.52 L392.97,131.18 L393.65,131.83 L394.33,132.49 L395.00,133.13 L395.68,133.78 L396.36,134.42 L397.04,135.07 L397.72,135.70 L398.40,136.34 L399.07,136.97 L399.75,137.60 L400.43,138.22 L401.11,138.84 L401.79,139.46 L402.46,140.08 L403.14,140.69 L403.82,141.30 L404.50,141.91 L405.18,142.51 L405.86,143.11 L406.53,143.71 L407.21,144.31 L407.89,144.90 L408.57,145.49 L409.25,146.08 L409.93,146.66 L410.60,147.24 L411.28,147.82 L411.96,148.40 L412.64,148.97 L413.32,149.54 L414.00,150.11 L414.67,150.67 L415.35,151.24 L416.03,151.79 L416.71,152.35 L417.39,152.91 L418.06,153.46 L418.74,154.01 L419.42,154.55 L420.10,155.10 L420.78,155.64 L421.46,156.17 L422.13,156.71 L422.81,157.24 L423.49,157.77 L424.17,158.30 L424.85,158.83 L425.53,159.35 L426.20,159.87 L426.88,160.39 L427.56,160.90 L430.31,162.97 L433.05,164.99 L435.80,166.98 L438.55,168.92 L441.30,170.83 L444.04,172.71 L446.79,174.55 L449.54,176.35 L452.29,178.12 L455.03,179.85 L457.78,181.56 L460.53,183.23 L463.28,184.87 L466.02,186.47 L468.77,188.05 L471.52,189.60 L474.26,191.12 L477.01,192.61 L479.76,194.07 L482.51,195.51 L485.25,196.92 L488.00,198.30 L490.75,199.66 L493.50,200.99 L496.24,202.30 L498.99,203.58 L501.74,204.84 L504.49,206.07 L507.23,207.29 L509.98,208.48 L512.73,209.65 L515.47,210.80 L518.22,211.93 L520.97,213.03 L523.72,214.12 L526.46,215.19 L529.21,216.24 L531.96,217.27 L534.71,218.28 L537.45,219.27 L540.20,220.24 L542.95,221.20 L545.70,222.14 L548.44,223.07 L551.19,223.97 L553.94,224.86 L556.69,225.74 L559.43,226.60 L562.18,227.44 L564.93,228.28 L567.67,229.09 L570.42,229.89 L573.17,230.68 L575.92,231.45 L578.66,232.21 L581.41,232.96 L584.16,233.70 L586.91,234.42 L589.65,235.13 L592.40,235.83 L595.15,236.51 L597.90,237.19 L600.64,237.85 L603.39,238.50 L606.14,239.14 L608.88,239.77 L611.63,240.39 L614.38,241.00 L617.13,241.60 L619.87,242.19 L622.62,242.77 L625.37,243.34 L628.12,243.90 L630.86,244.45 L633.61,244.99 L636.36,245.53 L639.11,246.05 L641.85,246.57 L644.60,247.08" fill="none" stroke="#e04242" stroke-width="1.1"/>
<line x1="446.4" y1="9.3" x2="470.8" y2="9.3" stroke="#222222" stroke-width="1.2"/>
<line x1="446.4" y1="23.4" x2="470.8" y2="23.4" stroke="#5461c4" stroke-width="1.2"/>
<line x1="446.4" y1="36.3" x2="470.8" y2="36.3" stroke="#82c95c" stroke-width="1.2"/>
<line x1="446.4" y1="49.4" x2="470.8" y2="49.4" stroke="#e04242" stroke-width="1.2"/>
<text x="477.6" y="12.8" font-size="11.5" textLength="39.98" lengthAdjust="spacing">Control</text>
<text x="476.5" y="26.7" font-size="11.5" textLength="38.63" lengthAdjust="spacing">SCCMS</text>
<text x="518.5" y="26.7" font-size="11.5" textLength="40.44" lengthAdjust="spacing">without</text>
<text x="562.6" y="26.7" font-size="11.5" textLength="42.67" lengthAdjust="spacing">R-CMAP</text>
<text x="476.5" y="40.0" font-size="11.5" textLength="38.63" lengthAdjust="spacing">SCCMS</text>
<text x="518.5" y="40.0" font-size="11.5" textLength="21.0" lengthAdjust="spacing">with</text>
<text x="544.5" y="40.0" font-size="11.5" textLength="42.93" lengthAdjust="spacing">R-CMAP</text>
<text x="477.5" y="52.7" font-size="11.5" textLength="40.66" lengthAdjust="spacing">Current</text>
<text x="522.7" y="52.7" font-size="11.5" textLength="37.28" lengthAdjust="spacing">patient</text>
<text x="563.9" y="52.7" font-size="11.5" textLength="40.29" lengthAdjust="spacing">without</text>
<text x="608.1" y="52.7" font-size="11.5" textLength="42.67" lengthAdjust="spacing">R-CMAP</text>
</svg></body></html>
